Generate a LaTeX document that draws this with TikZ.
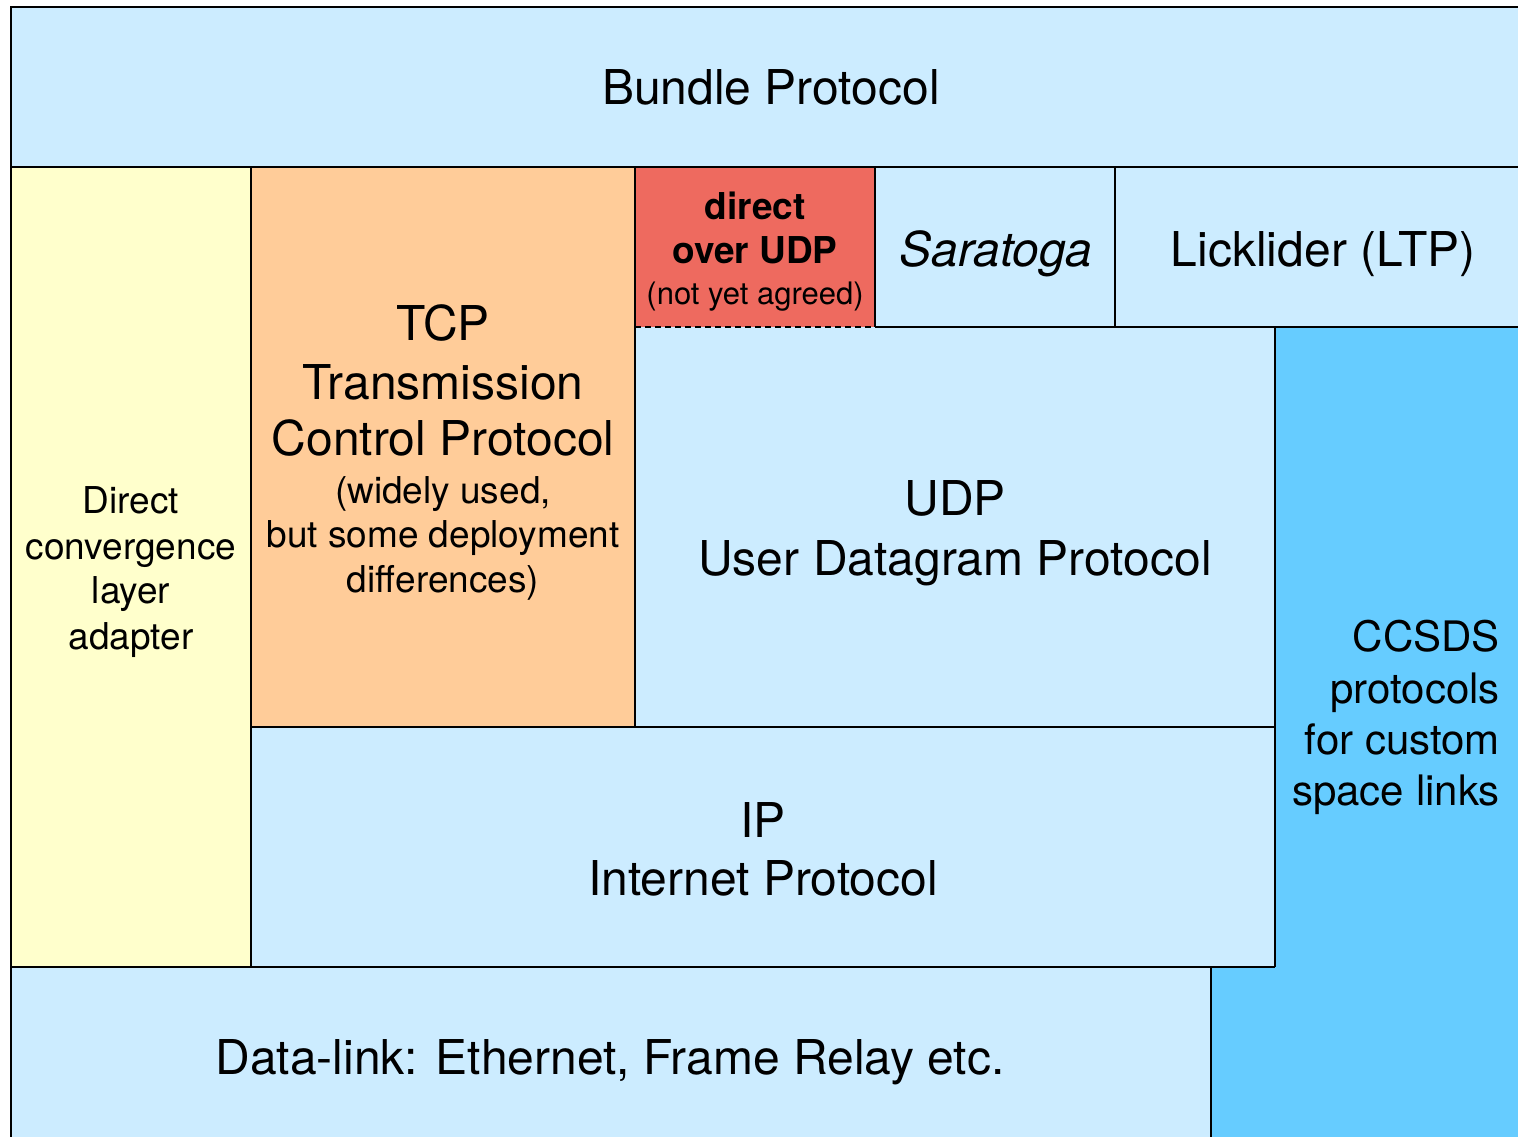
\documentclass[tikz,border=0pt]{standalone}
\usepackage{fontspec}
\setmainfont{TeX Gyre Heros}
\definecolor{lblue}{HTML}{CCECFF}
\definecolor{lyellow}{HTML}{FFFFCC}
\definecolor{lorange}{HTML}{FFCC99}
\definecolor{lred}{HTML}{EE6A5F}
\definecolor{cblue}{HTML}{66CCFF}
\begin{document}
\begin{tikzpicture}[x=1pt,y=-1pt,
  edge/.style={line width=2.2pt},
  softedge/.style={line width=1.6pt, dash pattern=on 6pt off 4pt},
  bigtxt/.style={font=\fontsize{48}{58}\selectfont, inner sep=0pt},
  midtxt/.style={font=\fontsize{42}{50}\selectfont, inner sep=0pt},
  smalltxt/.style={font=\fontsize{37}{44}\selectfont, inner sep=0pt},
  tinytxt/.style={font=\fontsize{31}{37}\selectfont, inner sep=0pt}]
\useasboundingbox (0,0) rectangle (1518,1137);
\clip (0,0) rectangle (1518,1137);
% fills
\fill[lblue] (11,7) rectangle (1530,167);
\fill[lyellow] (11,167) rectangle (251,967);
\fill[lorange] (251,167) rectangle (635,727);
\fill[lred] (635,167) rectangle (875,327);
\fill[lblue] (875,167) rectangle (1115,327);
\fill[lblue] (1115,167) rectangle (1530,327);
\fill[lblue] (635,327) rectangle (1275,727);
\fill[lblue] (251,727) rectangle (1275,967);
\fill[cblue] (1275,327) -- (1530,327) -- (1530,1150) -- (1211,1150) -- (1211,967) -- (1275,967) -- cycle;
\fill[lblue] (11,967) rectangle (1211,1150);
% edges
\draw[edge] (11,1150) -- (11,7) -- (1530,7);
\draw[edge] (11,167) -- (1530,167);
\draw[edge] (251,167) -- (251,967);
\draw[edge] (635,167) -- (635,727);
\draw[edge] (875,167) -- (875,327);
\draw[edge] (1115,167) -- (1115,327);
\draw[edge] (875,327) -- (1530,327);
\draw[softedge] (635,327) -- (875,327);
\draw[edge] (1275,327) -- (1275,967);
\draw[edge] (251,727) -- (1275,727);
\draw[edge] (11,967) -- (1275,967);
\draw[edge] (1211,967) -- (1211,1150);
% texts
\node[bigtxt, anchor=base] (bp) at (771,105) {Bundle Protocol};
\foreach \t/\y [count=\i] in {{Direct}/513, {convergence}/559, {layer}/603, {adapter}/649}
  \node[smalltxt, anchor=base] (dcla\i) at (131,\y) {\t};
\foreach \t/\y [count=\i] in {{TCP}/340, {Transmission}/399, {Control Protocol}/455}
  \node[bigtxt, anchor=base] (tcp\i) at (443,\y) {\t};
\foreach \t/\y [count=\i] in {{(widely used,}/503, {but some deployment}/547, {differences)}/592}
  \node[smalltxt, anchor=base] (tcpn\i) at (443,\y) {\t};
\node[smalltxt, anchor=base, font=\fontsize{37}{44}\selectfont\bfseries] (dou1) at (755,219) {direct};
\node[smalltxt, anchor=base, font=\fontsize{37}{44}\selectfont\bfseries] (dou2) at (755,263) {over UDP};
\node[tinytxt, anchor=base] (dou3) at (755,304) {(not yet agreed)};
\node[bigtxt, anchor=base, font=\fontsize{48}{58}\selectfont\itshape] (sar) at (996,266) {Saratoga};
\node[bigtxt, anchor=base] (ltp) at (1323,266) {Licklider (LTP)};
\node[bigtxt, anchor=base] (udp1) at (955,515) {UDP};
\node[bigtxt, anchor=base] (udp2) at (955,575) {User Datagram Protocol};
\node[bigtxt, anchor=base] (ip1) at (763,837) {IP};
\node[bigtxt, anchor=base] (ip2) at (763,895) {Internet Protocol};
\foreach \t/\y [count=\i] in {{CCSDS}/651, {protocols}/703, {for custom}/754, {space links}/805}
  \node[midtxt, anchor=base east] (ccsds\i) at (1500,\y) {\t};
\node[bigtxt, anchor=base] (dl) at (610,1074) {Data-link: Ethernet, Frame Relay etc.};
\end{tikzpicture}
\end{document}
